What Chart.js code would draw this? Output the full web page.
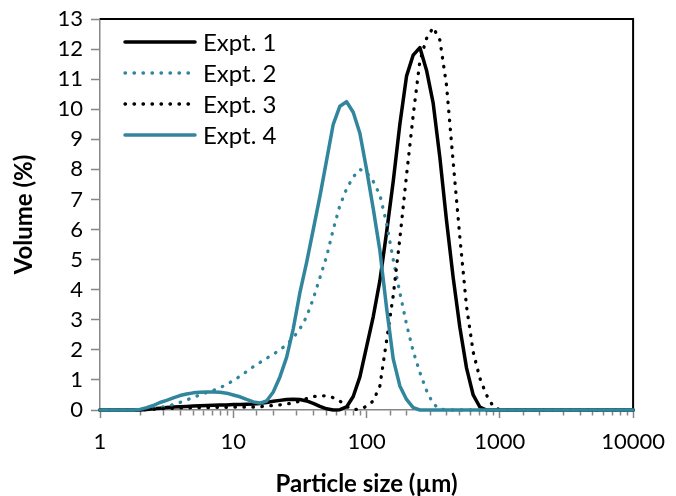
<!DOCTYPE html>
<html><head><meta charset="utf-8">
<script src="https://cdn.jsdelivr.net/npm/chart.js@4/dist/chart.umd.min.js"></script>
<style>html,body{margin:0;padding:0;background:#fff}#wrap{width:676px;height:496px}</style>
</head><body><div id="wrap"><canvas id="c" width="676" height="496"></canvas></div>
<script>
// Particle size classes (µm)
const sizes = [1.000,1.122,1.259,1.413,1.585,1.778,1.995,2.239,2.512,2.818,
 3.162,3.548,3.981,4.467,5.012,5.623,6.310,7.079,7.943,8.913,
 10.00,11.22,12.59,14.13,15.85,17.78,19.95,22.39,25.12,28.18,
 31.62,35.48,39.81,44.67,50.12,56.23,63.10,70.79,79.43,89.13,
 100.0,112.2,125.9,141.3,158.5,177.8,199.5,223.9,251.2,281.8,
 316.2,354.8,398.1,446.7,501.2,562.3,631.0,707.9,794.3,891.3,
 1000,1122,1259,10000];

const expt1 = [0,0,0,0,0,0,0,0.02,0.04,0.06,
 0.08,0.10,0.11,0.12,0.13,0.14,0.15,0.16,0.17,0.17,
 0.18,0.18,0.19,0.20,0.22,0.25,0.29,0.32,0.35,0.36,
 0.35,0.30,0.22,0.12,0.04,0.00,0.01,0.10,0.45,1.10,
 2.10,3.10,4.30,5.90,7.60,9.50,11.10,11.80,12.05,11.30,
 10.20,8.40,6.30,4.40,2.75,1.40,0.50,0.10,0,0,
 0,0,0,0];

const expt2 = [0,0,0,0,0,0,0,0.03,0.06,0.09,
 0.12,0.18,0.25,0.33,0.42,0.50,0.58,0.65,0.74,0.85,
 0.98,1.12,1.28,1.44,1.58,1.72,1.85,2.00,2.17,2.40,
 2.70,3.10,3.70,4.40,5.10,6.00,6.80,7.35,7.75,8.00,
 7.90,7.60,7.15,6.20,5.00,3.90,2.85,1.95,1.25,0.65,
 0.20,0.04,0,0,0,0,0,0,0,0,
 0,0,0,0];

const expt3 = [0,0,0,0,0,0,0,0.02,0.03,0.04,
 0.05,0.06,0.07,0.07,0.08,0.08,0.08,0.09,0.09,0.09,
 0.10,0.10,0.10,0.10,0.11,0.13,0.15,0.17,0.20,0.23,
 0.30,0.38,0.45,0.47,0.47,0.41,0.30,0.12,0.01,0.03,
 0.12,0.30,0.80,2.30,3.80,5.70,7.80,9.80,11.60,12.35,
 12.72,12.30,10.80,8.25,5.75,3.45,1.93,1.06,0.50,0.12,
 0,0,0,0];

const expt4 = [0,0,0,0,0,0,0.02,0.08,0.15,0.25,
 0.32,0.40,0.48,0.53,0.57,0.59,0.60,0.60,0.59,0.56,
 0.50,0.44,0.35,0.27,0.23,0.30,0.60,1.10,1.75,2.70,
 3.90,4.90,6.00,7.10,8.30,9.50,10.10,10.25,9.90,9.20,
 8.00,6.70,5.30,3.40,1.70,0.80,0.35,0.08,0,0,
 0,0,0,0,0,0,0,0,0,0,
 0,0,0,0];

const seriesNames = ['Expt. 1','Expt. 2','Expt. 3','Expt. 4'];
const xTickLabels = [1,10,100,1000,10000];
const yTickStep = 1;

const TEAL = '#31859C';
const AXIS = '#868686';
const FONT = 'Lato';

function pts(vals){ return sizes.map((s,i)=>({x:s,y:vals[i]})); }
function isLabelled(v){ return xTickLabels.some(t=>Math.abs(t-v)<1e-6*t); }

const DOT = [0.5, 8.5];

const frame = {
  id:'frame',
  beforeDatasetsDraw(chart){
    const {ctx, chartArea:a} = chart;
    ctx.save();
    ctx.strokeStyle = '#000'; ctx.lineWidth = 2;
    ctx.beginPath();
    ctx.moveTo(a.left, a.top); ctx.lineTo(a.right, a.top); ctx.lineTo(a.right, a.bottom);
    ctx.stroke();
    ctx.restore();
  }
};

const insideLegend = {
  id:'insideLegend',
  afterDatasetsDraw(chart){
    const {ctx, chartArea:a} = chart;
    const x0 = a.left + 25, x1 = a.left + 95, tx = a.left + 103, y0 = a.top + 23, dy = 31;
    chart.data.datasets.forEach((ds,i)=>{
      const y = y0 + i*dy;
      ctx.save();
      ctx.strokeStyle = ds.borderColor; ctx.lineWidth = ds.borderWidth;
      ctx.lineCap = ds.borderCapStyle || 'butt';
      ctx.setLineDash(ds.borderDash || []);
      ctx.beginPath(); ctx.moveTo(x0, y); ctx.lineTo(x1, y); ctx.stroke();
      ctx.setLineDash([]);
      ctx.fillStyle = '#000'; ctx.font = '24px ' + FONT; ctx.textBaseline = 'middle';
      ctx.fillText(ds.label, tx, y + 1);
      ctx.restore();
    });
  }
};

new Chart(document.getElementById('c'), {
  type:'line',
  data:{
    datasets:[
      {label:seriesNames[0], data:pts(expt1), borderColor:'#000', borderWidth:3.5, borderCapStyle:'round', order:3},
      {label:seriesNames[1], data:pts(expt2), borderColor:TEAL, borderWidth:3.3, borderDash:DOT, borderCapStyle:'round', order:2},
      {label:seriesNames[2], data:pts(expt3), borderColor:'#000', borderWidth:3.3, borderDash:DOT, borderCapStyle:'round', order:1},
      {label:seriesNames[3], data:pts(expt4), borderColor:TEAL, borderWidth:3.5, borderCapStyle:'round', order:0}
    ]
  },
  options:{
    responsive:false, animation:false, devicePixelRatio:1,
    layout:{padding:{left:0,right:36,top:19,bottom:0}, autoPadding:false},
    elements:{point:{radius:0,hoverRadius:0}, line:{tension:0, borderJoinStyle:'round', fill:false}},
    datasets:{line:{clip:6}},
    plugins:{legend:{display:false}, tooltip:{enabled:false}},
    scales:{
      x:{
        type:'logarithmic', min:1, max:10000,
        afterFit(s){ s.height = 86; },
        ticks:{autoSkip:false, maxRotation:0, minRotation:0, padding:11, color:'#000',
          font:{family:FONT,size:22},
          callback:(v)=> isLabelled(v) ? String(Math.round(v)) : ''},
        grid:{display:true, drawOnChartArea:false, drawTicks:true, tickLength:8, tickColor:AXIS, tickWidth:1.5,
          tickBorderDash:(c)=> (c.tick && isLabelled(c.tick.value)) ? [] : [5,50]},
        border:{display:true, color:AXIS, width:1.5},
        title:{display:true, text:'Particle size (µm)', color:'#000',
          font:{family:FONT,size:24,weight:'bold',lineHeight:1.0}, padding:{top:0,bottom:0}}
      },
      y:{
        min:0, max:13,
        afterFit(s){ s.width = 100; },
        ticks:{stepSize:yTickStep, autoSkip:false, padding:4, color:'#000', font:{family:FONT,size:22}},
        grid:{display:true, drawOnChartArea:false, drawTicks:true, tickLength:13, tickColor:AXIS, tickWidth:1.5,
          tickBorderDash:[0,4,9,100]},
        border:{display:true, color:AXIS, width:1.5},
        title:{display:true, text:'Volume (%)', color:'#000',
          font:{family:FONT,size:24,weight:'bold'}, padding:{top:10,bottom:0}}
      }
    }
  },
  plugins:[frame, insideLegend]
});
</script>
</body></html>
